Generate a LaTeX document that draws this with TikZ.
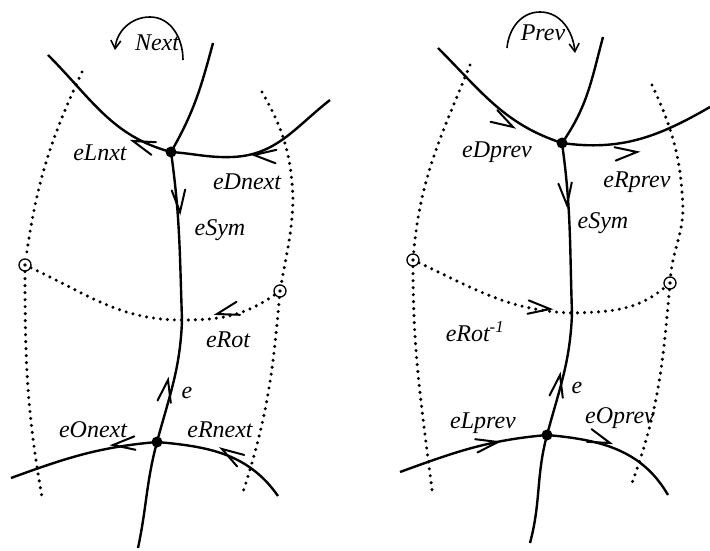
\documentclass[tikz,border=0pt]{standalone}
\usepackage{fontspec}
\setmainfont{Liberation Serif}
\usetikzlibrary{arrows.meta}

% open arrow head with its tip at #1, pointing along angle #2
\newcommand{\barbat}[2]{\draw[barbline] (#1) ++(#2+163:23) -- (#1) -- ++(#2-163:23);}

\begin{document}
\begin{tikzpicture}[x=1pt, y=1pt,
    edge/.style={line width=2.4pt},
    dual/.style={line width=3.4pt, dash pattern=on 0pt off 7pt, line cap=round},
    barbline/.style={line width=2pt, line cap=round, line join=miter},
    turn/.style={line width=1.6pt, -{Straight Barb[length=8pt,width=10pt]}},
    vert/.style={circle, fill, inner sep=0pt, minimum size=11pt},
    face/.style={circle, draw, line width=1.3pt, inner sep=0pt, minimum size=12pt,
        path picture={\fill (path picture bounding box.center) circle (1.8pt);}},
    lbl/.style={font=\fontsize{24}{26}\selectfont\itshape, inner sep=0pt}]
    \fill[white] (0,0) rectangle (710,550);
    \useasboundingbox (0,0) rectangle (710,550);

    % left: Next
    \node[vert] (nt) at (171,398) {};
    \node[vert] (nb) at (157,108) {};
    \node[face] (nl) at (25,285) {};
    \node[face] (nr) at (280,259) {};
    \coordinate (nx) at (182,230);
    \coordinate (na1) at (48,495);
    \coordinate (nam) at (232,393);
    \coordinate (na2) at (330,450);
    \coordinate (nup) at (213,507);
    \coordinate (ndn) at (138,2);
    \coordinate (nb1) at (11,72);
    \coordinate (nb2) at (278,54);

    \draw[edge] (na1) to[out=-45,in=165] (nt.center) to[out=-4,in=182] (nam)
        to[out=2,in=218] (na2);
    \draw[edge] (nup) to[out=-105,in=60] (nt.center);
    \draw[edge] (nt.center) to[out=-82,in=92] (nx) to[out=-92,in=75] (nb.center)
        to[out=-105,in=78] (ndn);
    \draw[edge] (nb1) to[out=20,in=185] (nb.center) to[out=-5,in=125] (nb2);

    \draw[dual] (82,478) to[out=-115,in=82] (nl) to[out=-90,in=100] (42,53);
    \draw[dual] (262,458) to[out=-60,in=92] (293,350) to[out=-92,in=80] (nr)
        to[out=-95,in=72] (243,58);
    \draw[dual] (nl) to[out=-25,in=180] (nx) to[out=0,in=215] (nr);

    \draw[turn] (183,490) to[out=90,in=0] (150,533) to[out=180,in=85] (115,500);

    \barbat{133,409}{160}
    \barbat{254,395}{176}
    \barbat{180,338}{-86}
    \barbat{168,170}{80}
    \barbat{217,236}{195}
    \barbat{113,105}{185}
    \barbat{222,101}{148}

    \node[lbl] (lnext) at (157,507) {Next};
    \node[lbl] (llnxt) at (100,397) {eLnxt};
    \node[lbl] (ldnext) at (247,368) {eDnext};
    \node[lbl] (lsym) at (220,320) {eSym};
    \node[lbl] (lrot) at (228,210) {eRot};
    \node[lbl] (le) at (187,157) {e};
    \node[lbl] (lonext) at (93,120) {eOnext};
    \node[lbl] (lrnext) at (220,120) {eRnext};

    % right: Prev
    \node[vert] (pt) at (562,407) {};
    \node[vert] (pb) at (547,115) {};
    \node[face] (pl) at (413,290) {};
    \node[face] (pr) at (670,267) {};
    \coordinate (px) at (572,237);
    \coordinate (pa1) at (438,502);
    \coordinate (pa2) at (710,443);
    \coordinate (pup) at (603,513);
    \coordinate (pdn) at (530,7);
    \coordinate (pb1) at (400,78);
    \coordinate (pb2) at (668,55);

    \draw[edge] (pa1) to[out=-45,in=162] (pt.center) to[out=-8,in=210] (pa2);
    \draw[edge] (pup) to[out=-105,in=55] (pt.center);
    \draw[edge] (pt.center) to[out=-82,in=92] (px) to[out=-92,in=75] (pb.center)
        to[out=-105,in=75] (pdn);
    \draw[edge] (pb1) to[out=20,in=185] (pb.center) to[out=-5,in=120] (pb2);

    \draw[dual] (470,485) to[out=-112,in=85] (pl) to[out=-90,in=97] (432,60);
    \draw[dual] (652,465) to[out=-65,in=92] (683,340) to[out=-92,in=85] (pr)
        to[out=-95,in=70] (632,67);
    \draw[dual] (pl) to[out=-25,in=178] (px) to[out=2,in=220] (pr);

    \draw[turn] (507,502) to[out=85,in=180] (540,538) to[out=0,in=95] (575,497);

    \barbat{513,423}{-30}
    \barbat{637,398}{5}
    \barbat{567,345}{-85}
    \barbat{560,175}{80}
    \barbat{550,241}{-5}
    \barbat{498,108}{10}
    \barbat{610,107}{-20}

    \node[lbl] (lprev) at (543,517) {Prev};
    \node[lbl] (ldprev) at (497,398) {eDprev};
    \node[lbl] (lrprev) at (637,368) {eRprev};
    \node[lbl] (lsymb) at (603,327) {eSym};
    \node[lbl] (lrotinv) at (475,218) {eRot\textsuperscript{-1}};
    \node[lbl] (leb) at (577,162) {e};
    \node[lbl] (llprev) at (483,127) {eLprev};
    \node[lbl] (loprev) at (620,132) {eOprev};
\end{tikzpicture}
\end{document}
